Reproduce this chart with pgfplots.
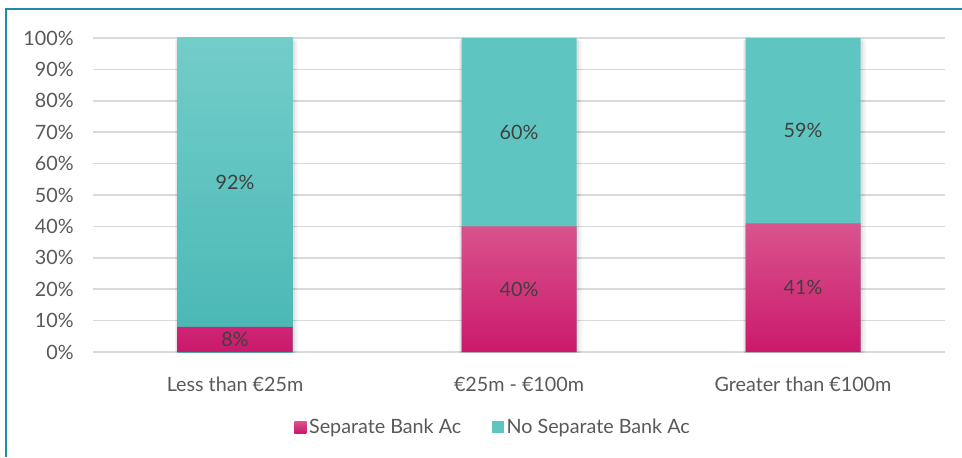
\documentclass[border=0pt]{standalone}
\usepackage{fontspec}
\setmainfont{Lato}
\usepackage{pgfplots}
\pgfplotsset{compat=1.18}

\definecolor{pinkT}{HTML}{D9548D}
\definecolor{pinkB}{HTML}{CB196D}
\definecolor{tealT}{HTML}{73CDC9}
\definecolor{tealB}{HTML}{48B7B5}
\definecolor{tealF}{HTML}{5EC5C1}
\definecolor{gridc}{HTML}{D9D9D9}
\definecolor{txt}{HTML}{595959}
\definecolor{lbl}{HTML}{404040}
\definecolor{framec}{HTML}{1B8DA7}

\newcommand{\fs}{\fontsize{14.8}{17}\selectfont}

\begin{document}
\begin{tikzpicture}
\useasboundingbox (0,0) rectangle (721.5pt,342.75pt);
\draw[framec, line width=1.6pt] (4.5pt,0) -- (4.5pt,336pt) -- (721.5pt,336pt);

\begin{axis}[
    at={(69.75pt,78.75pt)}, anchor=south west,
    scale only axis, width=639pt, height=235.5pt,
    xmin=-0.5, xmax=2.5, ymin=0, ymax=100,
    axis line style={draw=none},
    tick style={draw=none},
    ymajorgrids, grid style={gridc, line width=1.1pt},
    ytick={0,10,...,100},
    yticklabel={\pgfmathprintnumber{\tick}\%},
    xtick={0,1,2},
    xticklabels={Less than €25m, €25m - €100m, Greater than €100m},
    /pgf/number format/assume math mode=true,
    tick label style={font=\fs, text=txt},
    yticklabel style={xshift=-11pt},
    xticklabel style={yshift=-15pt},
    legend style={at={(0.47,-0.239)}, anchor=center, draw=none, fill=none,
        font=\fs, text=txt, legend columns=2,
        /tikz/every even column/.append style={column sep=21pt}},
    bar width=86.25pt,
]
% soft shadow behind the bars
\addplot[ybar, bar shift=1pt, bar width=92pt, draw=none, fill=black, fill opacity=0.05, yshift=-2pt, forget plot]
    coordinates {(0,100) (1,100) (2,100)};
\addplot[ybar, bar shift=0.5pt, bar width=89pt, draw=none, fill=black, fill opacity=0.07, yshift=-1pt, forget plot]
    coordinates {(0,100) (1,100) (2,100)};
% teal bars at full height, the pink parts are laid over them
\addplot[ybar, bar shift=0pt, draw=none, top color=tealT, bottom color=tealB, forget plot]
    coordinates {(0,100)};
\addplot[ybar, bar shift=0pt, draw=none, fill=tealF, forget plot]
    coordinates {(1,100) (2,100)};
\addplot[ybar, bar shift=0pt, draw=none, top color=pinkT, bottom color=pinkB, forget plot]
    coordinates {(0,8) (1,40) (2,41)};

% value labels, placed at the middle of each segment
\addplot[draw=none, mark=none, forget plot, nodes near coords,
    point meta=explicit symbolic,
    every node near coord/.append style={anchor=center, font=\fs, text=lbl}]
    coordinates {(0,4)[8\%] (1,20)[40\%] (2,20.5)[41\%]
                 (0,54)[92\%] (1,70)[60\%] (2,70.5)[59\%]};

\addlegendimage{legend image code/.code={\path[draw=none, top color=pinkT, bottom color=pinkB] (0pt,-4.5pt) rectangle (9pt,4.5pt);}}
\addlegendentry{Separate Bank Ac}
\addlegendimage{legend image code/.code={\path[draw=none, fill=tealF] (0pt,-4.5pt) rectangle (9pt,4.5pt);}}
\addlegendentry{No Separate Bank Ac}
\end{axis}
\end{tikzpicture}
\end{document}
